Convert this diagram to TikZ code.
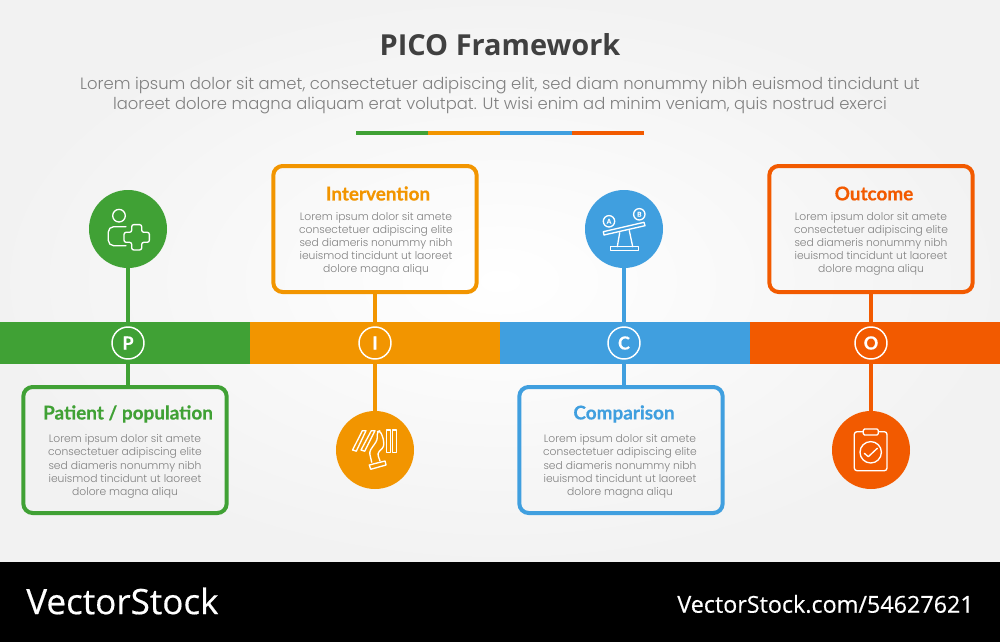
\documentclass[tikz,border=0pt]{standalone}
\usepackage{fontspec}
\setmainfont{Poppins Light}
\newfontfamily\headfont{Lato}[BoldFeatures={FakeBold=0.5}]
\newfontfamily\titlefont{Open Sans}
\newfontfamily\brandfont{Open Sans}[FakeBold=0.4]
\usetikzlibrary{positioning}

\definecolor{picogreen}{HTML}{40A135}
\definecolor{picoorange}{HTML}{F29500}
\definecolor{picoblue}{HTML}{409FDF}
\definecolor{picored}{HTML}{F25A00}
\definecolor{picotext}{HTML}{808080}

\tikzset{
    bandseg/.style={fill=#1, minimum width=187.5pt, minimum height=31.5pt, inner sep=0pt, outer sep=0pt, anchor=north west},
    divseg/.style={fill=#1, minimum width=54pt, minimum height=3pt, inner sep=0pt, outer sep=0pt, anchor=west},
    badge/.style={circle, draw=white, line width=1.1pt, fill=#1, minimum size=24pt, inner sep=0pt, text=white, font=\headfont\bfseries\fontsize{13.5}{13.5}\selectfont},
    iconcirc/.style={circle, fill=#1, minimum size=58.5pt, inner sep=0pt, outer sep=0pt},
    infobox/.style={draw=#1, line width=3pt, rounded corners=7pt, minimum width=152.5pt, minimum height=94.5pt, inner sep=0pt, outer sep=0pt},
    heading/.style={text=#1, font=\headfont\bfseries\fontsize{14.2}{16}\selectfont, inner sep=0pt},
    bodytext/.style={text=picotext, align=center, font=\fontsize{8.05}{9.9}\selectfont, inner sep=0pt},
    stem/.style={draw=#1, line width=3.4pt},
    iconline/.style={draw=white, line width=1pt, line join=round, line cap=round},
}

\begin{document}
\begin{tikzpicture}[x=0.75pt,y=0.75pt,yscale=-1,xscale=1]
    \useasboundingbox (0,0) rectangle (1000,642);

    % backdrop and watermark strip
    \shade [inner color=white, outer color=black!5] (0,0) rectangle (1000,562);
    \fill [black] (0,562) rectangle (1000,642);

    % title
    \node (title) at (500,44.5) [text=black!75, font=\titlefont\bfseries\fontsize{21.7}{24}\selectfont, inner sep=0pt] {PICO Framework};
    \node (subtitle) at (500,95.5) [text=picotext, align=center, font=\fontsize{12.3}{15}\selectfont, inner sep=0pt] {Lorem ipsum dolor sit amet, consectetuer adipiscing elit, sed diam nonummy nibh euismod tincidunt ut\\laoreet dolore magna aliquam erat volutpat. Ut wisi enim ad minim veniam, quis nostrud exerci};

    % divider
    \node (divp) at (356,133) [divseg=picogreen] {};
    \node (divi) at (428,133) [divseg=picoorange] {};
    \node (divc) at (500,133) [divseg=picoblue] {};
    \node (divo) at (572,133) [divseg=picored] {};

    % band
    \node (bandp) at (0,322) [bandseg=picogreen] {};
    \node (bandi) at (250,322) [bandseg=picoorange] {};
    \node (bandc) at (500,322) [bandseg=picoblue] {};
    \node (bando) at (750,322) [bandseg=picored] {};

    % badges
    \node (badgep) at (128,343) [badge=picogreen] {P};
    \node (badgei) at (375,343) [badge=picoorange] {I};
    \node (badgec) at (624,343) [badge=picoblue] {C};
    \node (badgeo) at (871,343) [badge=picored] {O};

    % icon circles
    \node (circp) at (128,229) [iconcirc=picogreen] {};
    \node (circi) at (375,450) [iconcirc=picoorange] {};
    \node (circc) at (624,229) [iconcirc=picoblue] {};
    \node (circo) at (871,450) [iconcirc=picored] {};

    % boxes
    \node (boxp) at (125,450) [infobox=picogreen] {};
    \node (boxi) at (375,229) [infobox=picoorange] {};
    \node (boxc) at (621,450) [infobox=picoblue] {};
    \node (boxo) at (871,229) [infobox=picored] {};

    % connectors
    \draw [stem=picogreen] (circp) -- (badgep);
    \draw [stem=picogreen] (badgep) -- (badgep |- boxp.north);
    \draw [stem=picoorange] (boxi.south -| badgei) -- (badgei);
    \draw [stem=picoorange] (badgei) -- (circi);
    \draw [stem=picoblue] (circc) -- (badgec);
    \draw [stem=picoblue] (badgec) -- (badgec |- boxc.north);
    \draw [stem=picored] (boxo) -- (badgeo);
    \draw [stem=picored] (badgeo) -- (circo);

    % box texts
    \node (headp) at (128,414) [heading=picogreen] {Patient / population};
    \node (bodyp) at (125,466.5) [bodytext] {Lorem ipsum dolor sit amete\\consectetuer adipiscing elite\\sed diameris nonummy nibh\\ieuismod tincidunt ut laoreet\\dolore magna aliqu};
    \node (headi) at (378,193.5) [heading=picoorange] {Intervention};
    \node (bodyi) at (376,244) [bodytext] {Lorem ipsum dolor sit amete\\consectetuer adipiscing elite\\sed diameris nonummy nibh\\ieuismod tincidunt ut laoreet\\dolore magna aliqu};
    \node (headc) at (624,414) [heading=picoblue] {Comparison};
    \node (bodyc) at (620,466.5) [bodytext] {Lorem ipsum dolor sit amete\\consectetuer adipiscing elite\\sed diameris nonummy nibh\\ieuismod tincidunt ut laoreet\\dolore magna aliqu};
    \node (heado) at (874,193.5) [heading=picored] {Outcome};
    \node (bodyo) at (871,244) [bodytext] {Lorem ipsum dolor sit amete\\consectetuer adipiscing elite\\sed diameris nonummy nibh\\ieuismod tincidunt ut laoreet\\dolore magna aliqu};

    % icon: person with plus
    \begin{scope}[shift={(128,229)}]
        \draw [iconline] (-9,-13.3) circle (6.3);
        \draw [iconline, rounded corners=4pt] (-2,16.7) -- (-19.7,16.7) -- (-19.7,-2.3) -- (-2,-2.3);
        \draw [iconline, fill=picogreen, rounded corners=1.6pt] (3.7,3.3) -- (3.7,-4.4) -- (13.7,-4.4) -- (13.7,3.3) -- (21.4,3.3) -- (21.4,13.3) -- (13.7,13.3) -- (13.7,21) -- (3.7,21) -- (3.7,13.3) -- (-4,13.3) -- (-4,3.3) -- cycle;
    \end{scope}

    % icon: hand and falling bars
    \begin{scope}[shift={(375,450)}]
        \draw [iconline] (11.3,-20) rectangle (15.3,2.3);
        \draw [iconline] (17.7,-20) rectangle (21.7,2.3);
        \draw [iconline] (-12.7,-19.3) -- (-9,-19.3) -- (-18.7,1.2) -- (-22.4,0) -- cycle;
        \draw [iconline] (-3.7,-19.3) -- (0,-19.3) -- (-10.3,1.2) -- (-14,0) -- cycle;
        \draw [iconline, rounded corners=2pt] (-3.3,12.3) -- (-5.7,1.7) -- (2.3,-10) -- (2.3,-18.3) -- (5,-19.3) -- (8.3,-11.7) -- (9,-3.3) -- (2.3,3.3) -- (5,11);
        \draw [iconline] (-5.7,15) -- (10,11) -- (11,15) -- (-4.3,19.3) -- cycle;
    \end{scope}

    % icon: seesaw
    \begin{scope}[shift={(624,229)}]
        \draw [iconline] (-20.7,2.7) -- (20,-6.7) -- (21,-3.3) -- (-20,6) -- cycle;
        \draw [iconline] (-15,-7.7) circle (5.7);
        \draw [iconline] (15.3,-14.7) circle (5.7);
        \node (labela) at (-15,-7.7) [text=white, inner sep=0pt, font=\headfont\bfseries\fontsize{5}{5}\selectfont] {A};
        \node (labelb) at (15.3,-14.7) [text=white, inner sep=0pt, font=\headfont\bfseries\fontsize{5}{5}\selectfont] {B};
        \draw [iconline] (-4.3,3.7) -- (-6.7,17.7);
        \draw [iconline] (5.3,1.6) -- (8.7,17.7);
        \draw [iconline] (-13.3,17.7) rectangle (14.3,21.3);
    \end{scope}

    % icon: clipboard
    \begin{scope}[shift={(871,450)}]
        \draw [iconline, rounded corners=2pt] (-16.7,-18.3) rectangle (16,20.7);
        \draw [iconline, fill=picored, rounded corners=1pt] (-7.7,-21) rectangle (7.3,-15);
        \draw [iconline] (-0.3,2.3) circle (10.7);
        \draw [iconline] (-6.7,3.3) -- (-2.7,6.7) -- (6.3,-1.7);
    \end{scope}

    % watermark
    \node (brand) at (26,601) [anchor=west, text=white, inner sep=0pt, font=\brandfont\fontsize{26.3}{28}\selectfont] {VectorStock};
    \node (brandid) at (974,604) [anchor=east, text=white, inner sep=0pt, font=\brandfont\fontsize{17.5}{18}\selectfont] {VectorStock.com/54627621};
\end{tikzpicture}
\end{document}
